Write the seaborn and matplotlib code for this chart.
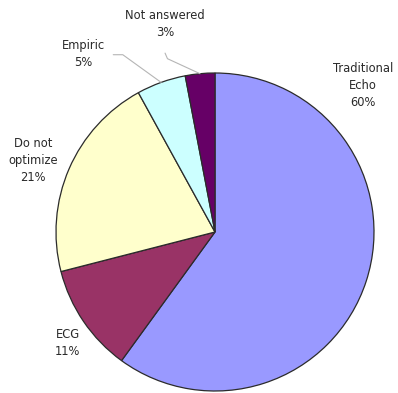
import numpy as np
import matplotlib
matplotlib.use("Agg")
import matplotlib.pyplot as plt
import seaborn as sns

# Survey answers: method used to optimize the device
categories = ["Traditional\nEcho", "ECG", "Do not\noptimize", "Empiric", "Not answered"]
shares = [60, 11, 21, 5, 3]
palette_hex = ["#9999FF", "#993366", "#FFFFCC", "#CCFFFF", "#660066"]

# Label anchor positions (in pie radius units) and whether a leader line is drawn
label_pos = [(0.93, 0.92), (-0.925, -0.70), (-1.145, 0.45), (-0.83, 1.12), (-0.314, 1.31)]
leader = [False, False, False, True, True]

sns.set_theme(style="white")
plt.rcParams["font.family"] = ["DejaVu Sans"]
colors = sns.color_palette(palette_hex)

fig = plt.figure(figsize=(3.98, 3.93), dpi=100)
ax = fig.add_axes([0, 0, 1, 1])

wedges, _ = ax.pie(
    shares,
    colors=colors,
    startangle=90,
    counterclock=False,
    radius=1.0,
    wedgeprops=dict(edgecolor="#2b2b2b", linewidth=0.9),
)

total = sum(shares)
for w, name, val, (lx, ly), lead in zip(wedges, categories, shares, label_pos, leader):
    pct = round(100 * val / total)
    ax.text(lx, ly, f"{name}\n{pct}%", ha="center", va="center",
            fontsize=8.3, color="#2a2a2a", linespacing=1.42)
    if lead:
        mid = np.deg2rad((w.theta1 + w.theta2) / 2)
        ex, ey = 1.0 * np.cos(mid), 1.0 * np.sin(mid)
        if name == "Empiric":
            pts = [(lx + 0.19, ly - 0.005), (lx + 0.25, ly - 0.005), (ex, ey)]
        else:
            pts = [(lx, ly - 0.185), (lx + 0.015, ly - 0.22), (ex, ey)]
        xs, ys = zip(*pts)
        ax.plot(xs, ys, color="#b5b5b5", linewidth=0.8)

ax.set_xlim(-215 / 159, (398 - 215) / 159)
ax.set_ylim((232 - 393) / 159, 232 / 159)
ax.set_aspect("auto")
ax.axis("off")

fig.savefig("out.png", dpi=100, facecolor="white")
